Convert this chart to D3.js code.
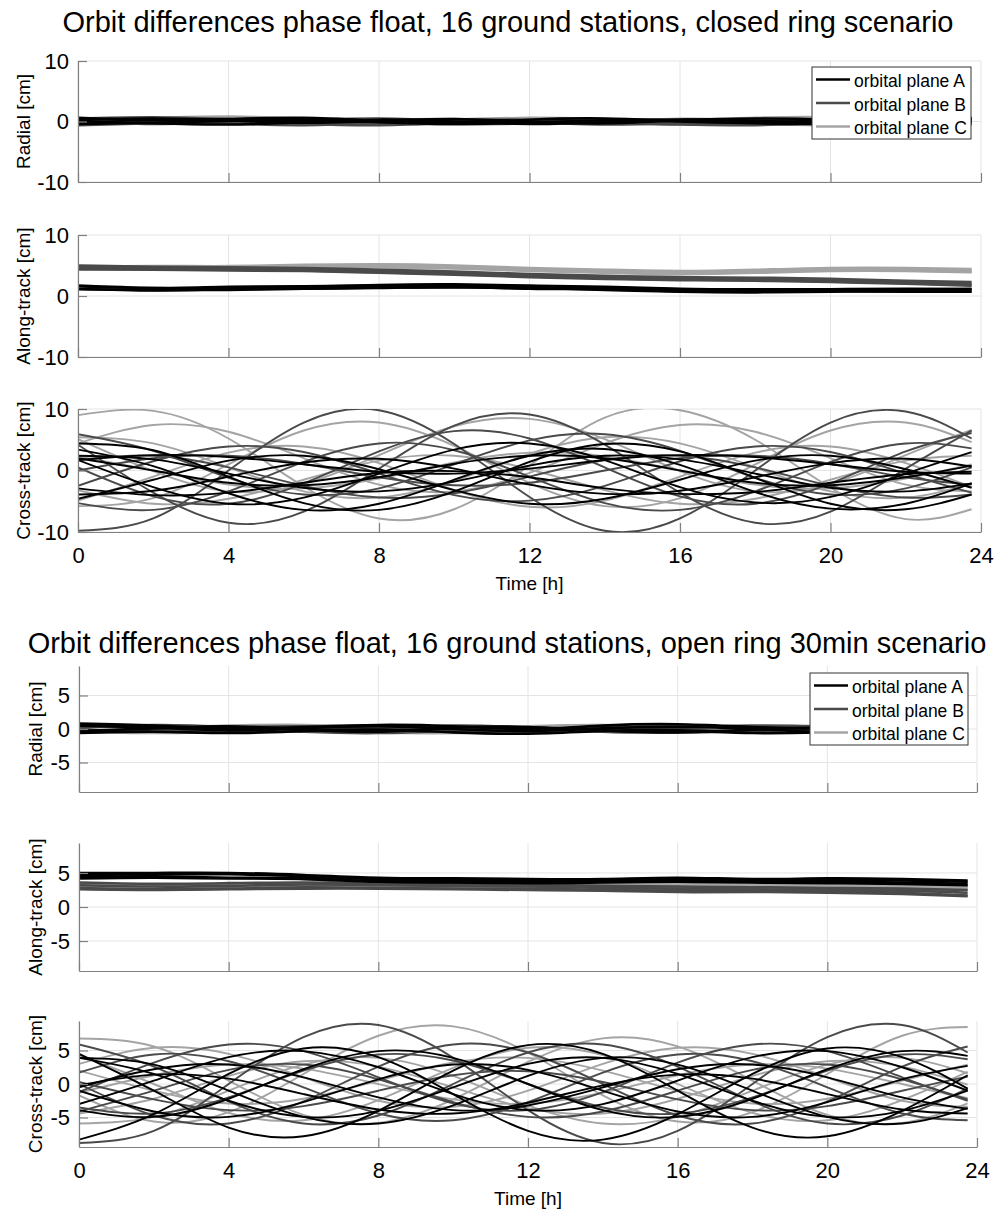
<!DOCTYPE html>
<html>
<head>
<meta charset="utf-8">
<script src="https://cdn.jsdelivr.net/npm/d3@7"></script>
<style>
  body { margin: 0; background: #fff; }
  text { font-family: "Liberation Sans", Arial, Helvetica, sans-serif; fill: #000; }
</style>
</head>
<body>
<svg id="chart" width="996" height="1209"></svg>
<script>
// sample times [h]
const hours = [0, 2, 4, 6, 8, 10, 12, 14, 16, 18, 20, 22, 23.75];
const xTicks = [0, 4, 8, 12, 16, 20, 24];
const planeNames = ["orbital plane A", "orbital plane B", "orbital plane C"];
const planeColors = ["#000000", "#4a4a4a", "#a4a4a4"];
const panelLabels = ["Radial [cm]", "Along-track [cm]", "Cross-track [cm]"];

// ---- closed ring scenario ----
const closedRadialA = [
  [0.3, 0.5, 0.2, -0.2, 0.1, 0.4, 0.0, -0.3, 0.2, 0.5, 0.3, -0.1, 0.4],
  [-0.4, -0.2, 0.1, 0.3, -0.1, -0.4, -0.2, 0.2, 0.0, -0.3, -0.4, 0.1, 0.6],
  [0.1, -0.3, -0.5, -0.1, 0.3, 0.0, -0.4, -0.1, 0.3, 0.1, -0.2, -0.5, 0.0],
  [0.6, 0.2, 0.4, 0.6, 0.1, -0.2, 0.3, 0.5, 0.1, -0.1, 0.2, 0.5, 0.2]
];
const closedRadialB = [
  [0.5, 0.7, 0.4, 0.0, -0.3, 0.1, 0.3, -0.1, -0.4, 0.0, 0.4, 0.2, -0.2],
  [-0.2, 0.1, -0.3, -0.6, -0.2, 0.2, -0.1, -0.5, -0.2, 0.2, 0.0, -0.4, -0.3],
  [0.0, -0.4, 0.0, 0.3, 0.5, 0.1, -0.3, 0.1, 0.4, 0.2, -0.3, 0.0, 0.5],
  [-0.6, -0.3, -0.1, -0.4, -0.6, -0.2, 0.1, -0.3, -0.5, -0.6, -0.2, -0.1, -0.4]
];
const closedRadialC = [
  [0.4, 0.6, 0.8, 0.5, 0.1, 0.3, 0.6, 0.4, 0.2, 0.6, 0.7, 0.3, 0.5],
  [-0.1, 0.2, 0.0, -0.3, 0.2, 0.4, 0.1, -0.2, 0.1, 0.3, 0.0, -0.2, 0.3],
  [-0.5, -0.2, -0.4, -0.1, -0.3, -0.5, -0.3, 0.0, -0.3, -0.4, -0.6, -0.3, -0.5],
  [0.2, 0.0, 0.3, 0.1, -0.1, 0.0, 0.2, 0.3, 0.0, -0.2, 0.1, 0.2, 0.0]
];
const closedAlongA = [
  [1.6, 1.3, 1.5, 1.6, 1.7, 1.8, 1.6, 1.4, 1.1, 1.0, 1.0, 1.1, 1.2],
  [1.2, 0.9, 1.1, 1.2, 1.4, 1.4, 1.3, 1.0, 0.7, 0.6, 0.7, 0.8, 0.8],
  [1.7, 1.3, 1.3, 1.5, 1.8, 1.9, 1.7, 1.5, 1.2, 1.1, 1.1, 1.2, 1.1],
  [1.1, 1.0, 1.0, 1.2, 1.3, 1.5, 1.2, 1.1, 0.8, 0.7, 0.8, 0.7, 0.7]
];
const closedAlongB = [
  [5.0, 4.8, 4.7, 4.6, 4.3, 4.0, 3.6, 3.3, 3.1, 3.0, 2.8, 2.5, 2.3],
  [4.5, 4.4, 4.3, 4.2, 3.9, 3.6, 3.2, 2.9, 2.7, 2.6, 2.4, 2.1, 1.8],
  [4.8, 4.6, 4.5, 4.4, 4.1, 3.8, 3.4, 3.1, 2.9, 2.8, 2.6, 2.3, 2.0],
  [4.4, 4.3, 4.2, 4.1, 3.8, 3.5, 3.1, 2.8, 2.6, 2.5, 2.3, 2.0, 1.7]
];
const closedAlongC = [
  [4.8, 4.9, 4.9, 5.1, 5.2, 5.0, 4.6, 4.3, 4.1, 4.3, 4.6, 4.6, 4.4],
  [4.4, 4.5, 4.6, 4.8, 4.8, 4.6, 4.2, 3.9, 3.7, 3.9, 4.2, 4.2, 4.0],
  [4.6, 4.7, 4.6, 4.8, 5.0, 4.8, 4.4, 4.1, 3.9, 4.1, 4.4, 4.4, 4.2],
  [4.3, 4.4, 4.5, 4.6, 4.7, 4.5, 4.1, 3.8, 3.6, 3.8, 4.1, 4.1, 3.9]
];
const closedCrossA = [
  [4.4, 3.3, -1.0, -5.3, -6.4, -3.4, 1.4, 4.3, 3.1, -1.2, -5.4, -6.3, -3.9],
  [3.4, 0.7, -3.7, -6.4, -5.4, -1.5, 2.4, 3.5, 0.9, -3.5, -6.2, -5.4, -2.1],
  [2.4, 1.8, -0.5, -2.8, -3.4, -1.8, 0.8, 2.4, 1.8, -0.5, -2.8, -3.4, -2.1],
  [-3.9, -3.3, -1.0, 1.3, 1.9, 0.3, -2.3, -3.8, -3.3, -1.1, 1.2, 1.9, 0.6],
  [2.0, 0.0, -2.0, -2.4, -1.1, 1.1, 2.4, 2.0, 0.0, -2.0, -2.4, -1.1, 0.8],
  [-4.6, -1.5, 1.6, 2.4, 0.2, -3.2, -5.4, -4.6, -1.5, 1.6, 2.4, 0.2, -2.8],
  [1.7, -2.7, -5.4, -4.4, -0.5, 3.4, 4.4, 1.7, -2.7, -5.2, -4.3, -0.5, 3.0],
  [-2.9, -4.0, -3.6, -2.0, -0.4, -0.1, -1.1, -2.9, -3.8, -3.5, -2.0, -0.6, -0.2],
  [1.7, 2.5, 2.2, 1.0, -0.2, -0.5, 0.3, 1.7, 2.5, 2.2, 1.0, -0.2, -0.5]
];
const closedCrossB = [
  [-9.8, -7.8, 0.0, 7.8, 9.8, 4.3, -4.3, -9.8, -7.8, 0.0, 7.8, 9.6, 5.2],
  [4.2, -3.6, -8.5, -6.7, 0.3, 7.3, 9.1, 4.2, -3.6, -8.5, -6.7, 0.3, 6.5],
  [5.9, 3.2, -1.2, -3.9, -2.9, 1.0, 4.9, 5.9, 3.2, -1.2, -3.9, -2.9, 0.5],
  [-5.3, -6.4, -3.4, 1.4, 4.4, 3.3, -1.0, -5.3, -6.4, -3.4, 1.4, 4.4, 3.6],
  [0.5, -4.2, -5.4, -2.1, 3.1, 6.4, 5.2, 0.5, -4.2, -5.4, -2.1, 3.1, 6.1],
  [1.7, 2.4, 0.5, -2.5, -4.4, -3.7, -1.0, 1.7, 2.4, 0.5, -2.5, -4.4, -3.9],
  [-2.5, 1.5, 3.9, 3.0, -0.5, -4.0, -4.9, -2.5, 1.5, 3.9, 3.0, -0.5, -3.6],
  [0.0, 2.0, 2.4, 1.1, -1.1, -2.4, -2.0, 0.0, 2.0, 2.4, 1.1, -1.1, -2.3]
];
const closedCrossC = [
  [9.0, 9.7, 5.2, -2.6, -7.8, -6.3, 0.8, 8.6, 9.8, 5.0, -2.8, -7.9, -6.3],
  [-5.8, -4.5, 1.0, 6.5, 7.8, 4.0, -2.0, -5.8, -4.5, 1.0, 6.5, 7.8, 4.6],
  [4.4, 7.4, 6.3, 2.0, -2.3, -3.4, -0.4, 4.4, 7.4, 6.3, 2.0, -2.3, -3.4],
  [5.4, 4.4, 0.5, -3.4, -4.4, -1.7, 2.7, 5.4, 4.4, 0.5, -3.4, -4.4, -2.1],
  [-4.9, -1.0, 2.9, 3.9, 1.2, -3.2, -5.9, -4.9, -1.0, 2.9, 3.9, 1.2, -2.7],
  [-3.2, -5.4, -4.6, -1.5, 1.6, 2.4, 0.2, -3.2, -5.4, -4.6, -1.5, 1.6, 2.4],
  [2.3, 0.0, -2.3, -2.9, -1.3, 1.3, 2.9, 2.3, 0.0, -2.3, -2.9, -1.3, 1.0],
  [5.1, -0.1, -3.4, -2.2, 2.5, 7.2, 8.4, 5.1, -0.1, -3.4, -2.2, 2.5, 6.6]
];

// ---- open ring 30min scenario ----
const openRadialA = [
  [0.5, 0.2, -0.2, 0.1, 0.4, 0.0, -0.3, 0.1, 0.3, 0.0, -0.4, 0.2, 0.5],
  [-0.3, 0.1, 0.4, -0.1, -0.4, 0.2, 0.3, -0.2, -0.5, -0.1, 0.2, 0.0, -0.3],
  [0.8, 0.5, 0.1, 0.3, 0.6, 0.4, 0.0, 0.5, 0.7, 0.3, 0.1, 0.4, 0.8],
  [-0.6, -0.4, -0.6, -0.3, -0.1, -0.5, -0.7, -0.3, -0.2, -0.6, -0.5, -0.3, -0.1]
];
const openRadialB = [
  [0.2, 0.6, 0.3, -0.2, 0.0, 0.5, 0.2, -0.1, 0.2, 0.5, 0.3, -0.1, 0.3],
  [-0.5, -0.2, 0.0, -0.4, -0.6, -0.2, 0.1, -0.4, -0.5, -0.2, 0.0, -0.5, -0.6],
  [0.0, -0.3, 0.2, 0.4, 0.1, -0.3, -0.1, 0.3, 0.0, -0.3, 0.2, 0.4, 0.9],
  [0.4, 0.1, -0.3, 0.0, 0.3, 0.1, -0.4, 0.0, 0.4, 0.1, -0.3, 0.1, 0.2]
];
const openRadialC = [
  [0.3, 0.4, 0.0, 0.2, 0.5, 0.2, 0.0, 0.3, 0.4, 0.1, 0.0, 0.3, 0.6],
  [-0.2, -0.4, -0.1, 0.1, -0.2, -0.4, -0.2, 0.1, -0.1, -0.3, -0.1, 0.1, 0.0],
  [0.6, 0.3, 0.5, 0.6, 0.3, 0.1, 0.4, 0.6, 0.3, 0.2, 0.5, 0.6, 0.4],
  [-0.4, -0.6, -0.4, -0.2, -0.5, -0.6, -0.3, -0.2, -0.5, -0.4, -0.2, -0.4, -0.5]
];
const openAlongA = [
  [5.0, 5.0, 5.0, 4.7, 4.3, 4.2, 4.1, 4.1, 4.3, 4.1, 4.2, 4.1, 3.9],
  [4.4, 4.5, 4.3, 4.2, 3.8, 3.8, 3.7, 3.7, 3.8, 3.7, 3.7, 3.6, 3.4],
  [4.7, 4.8, 4.8, 4.5, 4.1, 4.0, 3.9, 3.9, 4.1, 3.9, 4.0, 3.9, 3.7],
  [4.2, 4.3, 4.2, 4.1, 3.7, 3.6, 3.5, 3.6, 3.7, 3.6, 3.5, 3.4, 3.2]
];
const openAlongB = [
  [3.6, 3.4, 3.5, 3.6, 3.5, 3.4, 3.3, 3.1, 3.0, 2.9, 2.8, 2.7, 2.5],
  [2.8, 2.6, 2.7, 2.9, 2.8, 2.7, 2.7, 2.5, 2.4, 2.3, 2.3, 2.1, 1.7],
  [3.2, 3.0, 3.1, 3.3, 3.2, 3.1, 3.0, 2.8, 2.7, 2.6, 2.5, 2.4, 2.1],
  [2.6, 2.5, 2.6, 2.7, 2.7, 2.6, 2.5, 2.4, 2.2, 2.2, 2.1, 1.9, 1.6]
];
const openAlongC = [
  [3.4, 3.3, 3.4, 3.5, 3.4, 3.5, 3.6, 3.7, 3.6, 3.5, 3.4, 3.3, 3.1],
  [3.1, 3.0, 3.1, 3.2, 3.1, 3.2, 3.2, 3.3, 3.2, 3.1, 3.0, 2.9, 2.7],
  [3.2, 3.1, 3.2, 3.3, 3.3, 3.3, 3.4, 3.5, 3.4, 3.3, 3.2, 3.1, 2.9],
  [2.9, 2.8, 2.9, 3.0, 3.0, 3.0, 3.1, 3.1, 3.0, 2.9, 2.8, 2.7, 2.5]
];
const openCrossA = [
  [-8.3, -4.5, 1.5, 5.3, 4.0, -1.5, -7.0, -8.3, -4.5, 1.5, 5.3, 4.0, -0.7],
  [4.5, -1.0, -6.5, -7.8, -4.0, 2.0, 5.8, 4.5, -1.0, -6.5, -7.8, -4.0, 1.3],
  [3.9, 2.9, -1.0, -4.9, -5.9, -3.2, 1.2, 3.9, 2.9, -1.0, -4.9, -5.9, -3.6],
  [3.9, 1.5, -2.5, -4.9, -4.0, -0.5, 3.0, 3.9, 1.5, -2.5, -4.9, -4.0, -1.0],
  [-3.9, -4.9, -2.2, 2.2, 4.9, 3.9, 0.0, -3.9, -4.9, -2.2, 2.2, 4.9, 4.2],
  [-1.0, -4.1, -4.9, -2.7, 0.7, 2.9, 2.1, -1.0, -4.1, -4.9, -2.7, 0.7, 2.7],
  [-0.5, 2.2, 2.9, 1.0, -2.0, -3.9, -3.2, -0.5, 2.2, 2.9, 1.0, -2.0, -3.7],
  [-3.0, 0.5, 4.0, 4.9, 2.5, -1.5, -3.9, -3.0, 0.5, 4.0, 4.9, 2.5, -1.0],
  [-0.2, 1.4, 0.8, -1.5, -3.8, -4.4, -2.8, -0.2, 1.4, 0.8, -1.5, -3.8, -4.4]
];
const openCrossB = [
  [-8.8, -7.0, 0.0, 7.0, 8.8, 3.9, -3.9, -8.8, -7.0, 0.0, 7.0, 8.8, 4.7],
  [5.9, 2.6, -2.6, -5.9, -4.7, 0.0, 4.7, 5.9, 2.6, -2.6, -5.9, -4.7, -0.7],
  [0.0, -4.7, -5.9, -2.6, 2.6, 5.9, 4.7, 0.0, -4.7, -5.9, -2.6, 2.6, 5.6],
  [-4.1, -1.0, 2.1, 2.9, 0.7, -2.7, -4.9, -4.1, -1.0, 2.1, 2.9, 0.7, -2.3],
  [1.7, 4.4, 3.4, -0.5, -4.4, -5.4, -2.7, 1.7, 4.4, 3.4, -0.5, -4.4, -5.4],
  [-3.5, -4.4, -2.0, 2.0, 4.4, 3.5, 0.0, -3.5, -4.4, -2.0, 2.0, 4.4, 3.7],
  [0.3, -2.3, -3.9, -3.3, -1.0, 1.3, 1.9, 0.3, -2.3, -3.9, -3.3, -1.0, 1.1],
  [-1.2, 3.2, 5.9, 4.9, 1.0, -2.9, -3.9, -1.2, 3.2, 5.9, 4.9, 1.0, -2.5]
];
const openCrossC = [
  [-1.7, -5.6, -4.2, 1.5, 7.2, 8.6, 4.7, -1.7, -5.6, -4.2, 1.5, 7.2, 8.5],
  [6.8, 5.6, 0.5, -4.6, -5.8, -2.3, 3.3, 6.8, 5.6, 0.5, -4.6, -5.8, -2.9],
  [4.3, 0.0, -4.3, -5.4, -2.4, 2.4, 5.4, 4.3, 0.0, -4.3, -5.4, -2.4, 1.8],
  [-4.4, -2.2, 1.2, 3.4, 2.6, -0.5, -3.6, -4.4, -2.2, 1.2, 3.4, 2.6, -0.1],
  [-1.3, 1.3, 2.9, 2.3, 0.0, -2.3, -2.9, -1.3, 1.3, 2.9, 2.3, 0.0, -2.1],
  [-5.9, -4.9, -1.0, 2.9, 3.9, 1.2, -3.2, -5.9, -4.9, -1.0, 2.9, 3.9, 1.6],
  [2.0, -1.0, -2.9, -2.2, 0.5, 3.2, 3.9, 2.0, -1.0, -2.9, -2.2, 0.5, 2.9],
  [3.0, 5.4, 4.5, 1.0, -2.5, -3.4, -1.0, 3.0, 5.4, 4.5, 1.0, -2.5, -3.4]
];

const figures = [
  {
    id: "closed",
    title: "Orbit differences phase float, 16 ground stations, closed ring scenario",
    titleX: 508, titleY: 32,
    left: 78, right: 981,
    yDomain: [-10, 10], yTicks: [-10, 0, 10],
    ylabelX: 30,
    legend: { x: 812, y: 67, w: 159, h: 72 },
    panels: [
      { top: 61, bottom: 182, series: [closedRadialA, closedRadialB, closedRadialC], width: 2.6 },
      { top: 235, bottom: 357, series: [closedAlongA, closedAlongB, closedAlongC], width: 2.6 },
      { top: 409, bottom: 532, series: [closedCrossA, closedCrossB, closedCrossC], width: 1.9 }
    ],
    timeY: 590
  },
  {
    id: "open",
    title: "Orbit differences phase float, 16 ground stations, open ring 30min scenario",
    titleX: 507, titleY: 653,
    left: 79, right: 977,
    yDomain: [-9.4, 9.4], yTicks: [-5, 0, 5],
    ylabelX: 42,
    legend: { x: 810, y: 673, w: 158, h: 72 },
    panels: [
      { top: 666, bottom: 792, series: [openRadialA, openRadialB, openRadialC], width: 2.6 },
      { top: 843, bottom: 971, series: [openAlongA, openAlongB, openAlongC], width: 2.6 },
      { top: 1021, bottom: 1147, series: [openCrossA, openCrossB, openCrossC], width: 1.9 }
    ],
    timeY: 1205
  }
];

const svg = d3.select("#chart");
const defs = svg.append("defs");
const tickText = d => String(d); // plain hyphen minus, as in the original

function drawFigure(fig) {
  const x = d3.scaleLinear().domain([0, 24]).range([fig.left, fig.right]);

  svg.append("text")
      .attr("x", fig.titleX)
      .attr("y", fig.titleY)
      .attr("text-anchor", "middle")
      .attr("font-size", 29)
      .text(fig.title);

  fig.panels.forEach((p, pi) => {
    const y = d3.scaleLinear().domain(fig.yDomain).range([p.bottom, p.top]);
    const g = svg.append("g");

    // grid
    g.selectAll(".vgrid").data(xTicks).join("line")
        .attr("x1", d => x(d)).attr("x2", d => x(d))
        .attr("y1", p.top).attr("y2", p.bottom)
        .attr("stroke", "#e4e4e4").attr("stroke-width", 1);
    g.selectAll(".hgrid").data(fig.yTicks).join("line")
        .attr("x1", fig.left).attr("x2", fig.right)
        .attr("y1", d => y(d)).attr("y2", d => y(d))
        .attr("stroke", "#e4e4e4").attr("stroke-width", 1);

    // data lines
    const clipId = "clip-" + fig.id + "-" + pi;
    defs.append("clipPath").attr("id", clipId)
      .append("rect")
        .attr("x", fig.left).attr("y", p.top)
        .attr("width", fig.right - fig.left).attr("height", p.bottom - p.top);

    const line = d3.line()
        .x((d, i) => x(hours[i]))
        .y(d => y(d))
        .curve(d3.curveNatural);

    const lines = g.append("g").attr("clip-path", "url(#" + clipId + ")");
    [2, 1, 0].forEach(k => {
      lines.append("g").selectAll("path").data(p.series[k]).join("path")
          .attr("d", line)
          .attr("fill", "none")
          .attr("stroke", planeColors[k])
          .attr("stroke-width", p.width)
          .attr("stroke-linejoin", "round");
    });

    // axes (ticks inside, MATLAB style)
    const isBottom = pi === fig.panels.length - 1;
    const xAxis = d3.axisBottom(x)
        .tickValues(xTicks)
        .tickSizeInner(-9)
        .tickSizeOuter(0)
        .tickPadding(15)
        .tickFormat(isBottom ? tickText : () => "");
    const gx = g.append("g")
        .attr("transform", "translate(0," + p.bottom + ")")
        .call(xAxis);

    const yAxis = d3.axisLeft(y)
        .tickValues(fig.yTicks)
        .tickSizeInner(-9)
        .tickSizeOuter(0)
        .tickPadding(9)
        .tickFormat(tickText);
    const gy = g.append("g")
        .attr("transform", "translate(" + fig.left + ",0)")
        .call(yAxis);

    [gx, gy].forEach(a => {
      a.select(".domain").attr("stroke", "#808080").attr("stroke-width", 1.2);
      a.selectAll(".tick line").attr("stroke", "#808080").attr("stroke-width", 1.2);
      a.selectAll(".tick text")
          .attr("font-size", 22)
          .attr("font-family", "Liberation Sans, Arial, sans-serif")
          .attr("fill", "#000");
    });

    // y label
    svg.append("text")
        .attr("transform", "translate(" + fig.ylabelX + "," + ((p.top + p.bottom) / 2) + ") rotate(-90)")
        .attr("text-anchor", "middle")
        .attr("font-size", 19)
        .text(panelLabels[pi]);

    // legend on first panel
    if (pi === 0) {
      const L = fig.legend;
      const lg = svg.append("g").attr("transform", "translate(" + L.x + "," + L.y + ")");
      lg.append("rect")
          .attr("width", L.w).attr("height", L.h)
          .attr("fill", "#fff")
          .attr("stroke", "#333").attr("stroke-width", 1);
      planeNames.forEach((name, k) => {
        const cy = 12.5 + k * 23.5;
        lg.append("line")
            .attr("x1", 4).attr("x2", 38)
            .attr("y1", cy).attr("y2", cy)
            .attr("stroke", planeColors[k]).attr("stroke-width", 2.5);
        lg.append("text")
            .attr("x", 42).attr("y", cy + 7.5)
            .attr("font-size", 17.5)
            .text(name);
      });
    }
  });

  svg.append("text")
      .attr("x", (fig.left + fig.right) / 2)
      .attr("y", fig.timeY)
      .attr("text-anchor", "middle")
      .attr("font-size", 19)
      .text("Time [h]");
}

figures.forEach(drawFigure);
</script>
</body>
</html>
